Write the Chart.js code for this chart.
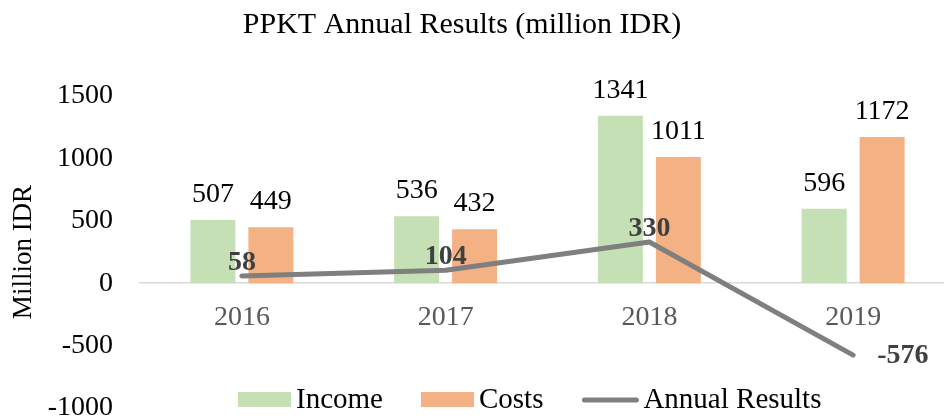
<!DOCTYPE html>
<html>
<head>
<meta charset="utf-8">
<title>PPKT Annual Results</title>
<script src="https://cdn.jsdelivr.net/npm/chart.js@4/dist/chart.umd.min.js"></script>
<style>
    html, body { margin: 0; padding: 0; background: #fff; overflow: hidden; }
    #contenedor { width: 960px; height: 419px; }
</style>
</head>
<body>
<div id="contenedor"><canvas id="grafica" width="960" height="419"></canvas></div>
<script>
// ===============================
// DATOS
// ===============================
const anios = ["2016", "2017", "2018", "2019"];
const ingresos = [507, 536, 1341, 596];
const costos = [449, 432, 1011, 1172];
const resultados = [58, 104, 330, -576];
const ticksY = [-1000, -500, 0, 500, 1000, 1500];

const FUENTE = '"Liberation Serif", "Times New Roman", serif';
const VERDE = "#c5e0b4";
const NARANJA = "#f4b183";
const GRIS = "#7f7f7f";

// area de trazado (en px del lienzo)
const AREA = { top: 96, bottom: 408, left: 140, right: 955 };

// ===============================
// PLUGIN: titulo, etiquetas y leyenda
// ===============================
const extras = {
    id: "extras",
    afterLayout(chart) {
        // fijar el area de trazado como en el original
        const a = chart.chartArea;
        a.top = AREA.top;
        a.bottom = AREA.bottom;
        a.height = a.bottom - a.top;
        const y = chart.scales.y;
        y.top = AREA.top;
        y.bottom = AREA.bottom;
        y.height = a.height;
        y.configure();
        chart.scales.x.configure();
    },
    afterDatasetsDraw(chart) {
        const c = chart.ctx;
        c.save();

        // etiquetas de barras
        c.font = "28px " + FUENTE;
        c.fillStyle = "#000";
        c.textAlign = "center";
        c.textBaseline = "alphabetic";
        [1, 2].forEach(i => {
            const ds = chart.data.datasets[i];
            chart.getDatasetMeta(i).data.forEach((bar, j) => {
                c.fillText(String(ds.data[j]), bar.x, bar.y - 18);
            });
        });

        // etiquetas de la linea
        c.font = "bold 28px " + FUENTE;
        c.fillStyle = "#404040";
        const linea = chart.data.datasets[0];
        chart.getDatasetMeta(0).data.forEach((pt, j) => {
            const txt = String(linea.data[j]);
            if (j === linea.data.length - 1) {
                c.textAlign = "left";
                c.textBaseline = "middle";
                c.fillText(txt, pt.x + 24, pt.y + 1);
            } else {
                c.textAlign = "center";
                c.textBaseline = "alphabetic";
                c.fillText(txt, pt.x, pt.y - 6);
            }
        });
        c.restore();
    },
    afterDraw(chart) {
        const c = chart.ctx;
        c.save();

        // titulo
        c.font = "30px " + FUENTE;
        c.fillStyle = "#000";
        c.textAlign = "center";
        c.textBaseline = "alphabetic";
        c.fillText("PPKT Annual Results (million IDR)", 462, 33);

        // leyenda
        c.font = "29px " + FUENTE;
        c.textAlign = "left";
        c.textBaseline = "middle";
        const yLeyenda = 400;
        let x = 238;
        const items = [chart.data.datasets[1], chart.data.datasets[2], chart.data.datasets[0]];
        items.forEach(ds => {
            if (ds.type === "line") {
                c.strokeStyle = ds.borderColor;
                c.lineWidth = 5;
                c.lineCap = "round";
                c.beginPath();
                c.moveTo(x + 3, yLeyenda);
                c.lineTo(x + 55, yLeyenda);
                c.stroke();
                x += 62;
            } else {
                c.fillStyle = ds.backgroundColor;
                c.fillRect(x, yLeyenda - 8, 53, 15);
                x += 58;
            }
            c.fillStyle = "#000";
            c.fillText(ds.label, x, yLeyenda);
            x += c.measureText(ds.label).width + 38;
        });
        c.restore();
    }
};

// ===============================
// GRAFICA
// ===============================
const ctx = document.getElementById("grafica").getContext("2d");

const grafica = new Chart(ctx, {
    data: {
        labels: anios,
        datasets: [
            {
                type: "line",
                label: "Annual Results",
                data: resultados,
                borderColor: GRIS,
                borderWidth: 5,
                borderCapStyle: "round",
                borderJoinStyle: "round",
                pointRadius: 0,
                tension: 0,
                order: 0
            },
            {
                type: "bar",
                label: "Income",
                data: ingresos,
                backgroundColor: VERDE,
                categoryPercentage: 0.569,
                barPercentage: 0.776,
                order: 1
            },
            {
                type: "bar",
                label: "Costs",
                data: costos,
                backgroundColor: NARANJA,
                categoryPercentage: 0.569,
                barPercentage: 0.776,
                order: 1
            }
        ]
    },
    options: {
        responsive: false,
        animation: false,
        layout: { padding: { left: 0, right: 5, top: 96, bottom: 11 } },
        plugins: {
            legend: { display: false },
            title: { display: false },
            tooltip: { enabled: false }
        },
        scales: {
            x: {
                position: { y: 0 },
                offset: true,
                afterFit: scale => { scale.height = 0; },
                grid: { display: false, drawTicks: false },
                border: { display: true, color: "#d9d9d9", width: 1.5 },
                ticks: {
                    color: "#595959",
                    padding: 18,
                    font: { family: FUENTE, size: 28 }
                }
            },
            y: {
                min: ticksY[0],
                max: ticksY[ticksY.length - 1],
                afterBuildTicks: scale => {
                    scale.ticks = ticksY.map(v => ({ value: v }));
                },
                afterFit: scale => { scale.width = 140; },
                grid: { display: false, drawTicks: false },
                border: { display: false },
                ticks: {
                    color: "#000",
                    padding: 27,
                    font: { family: FUENTE, size: 28 },
                    callback: v => String(v)
                },
                title: {
                    display: true,
                    text: "Million IDR",
                    color: "#000",
                    padding: { top: 8 },
                    font: { family: FUENTE, size: 27 }
                }
            }
        }
    },
    plugins: [extras]
});
</script>
</body>
</html>
